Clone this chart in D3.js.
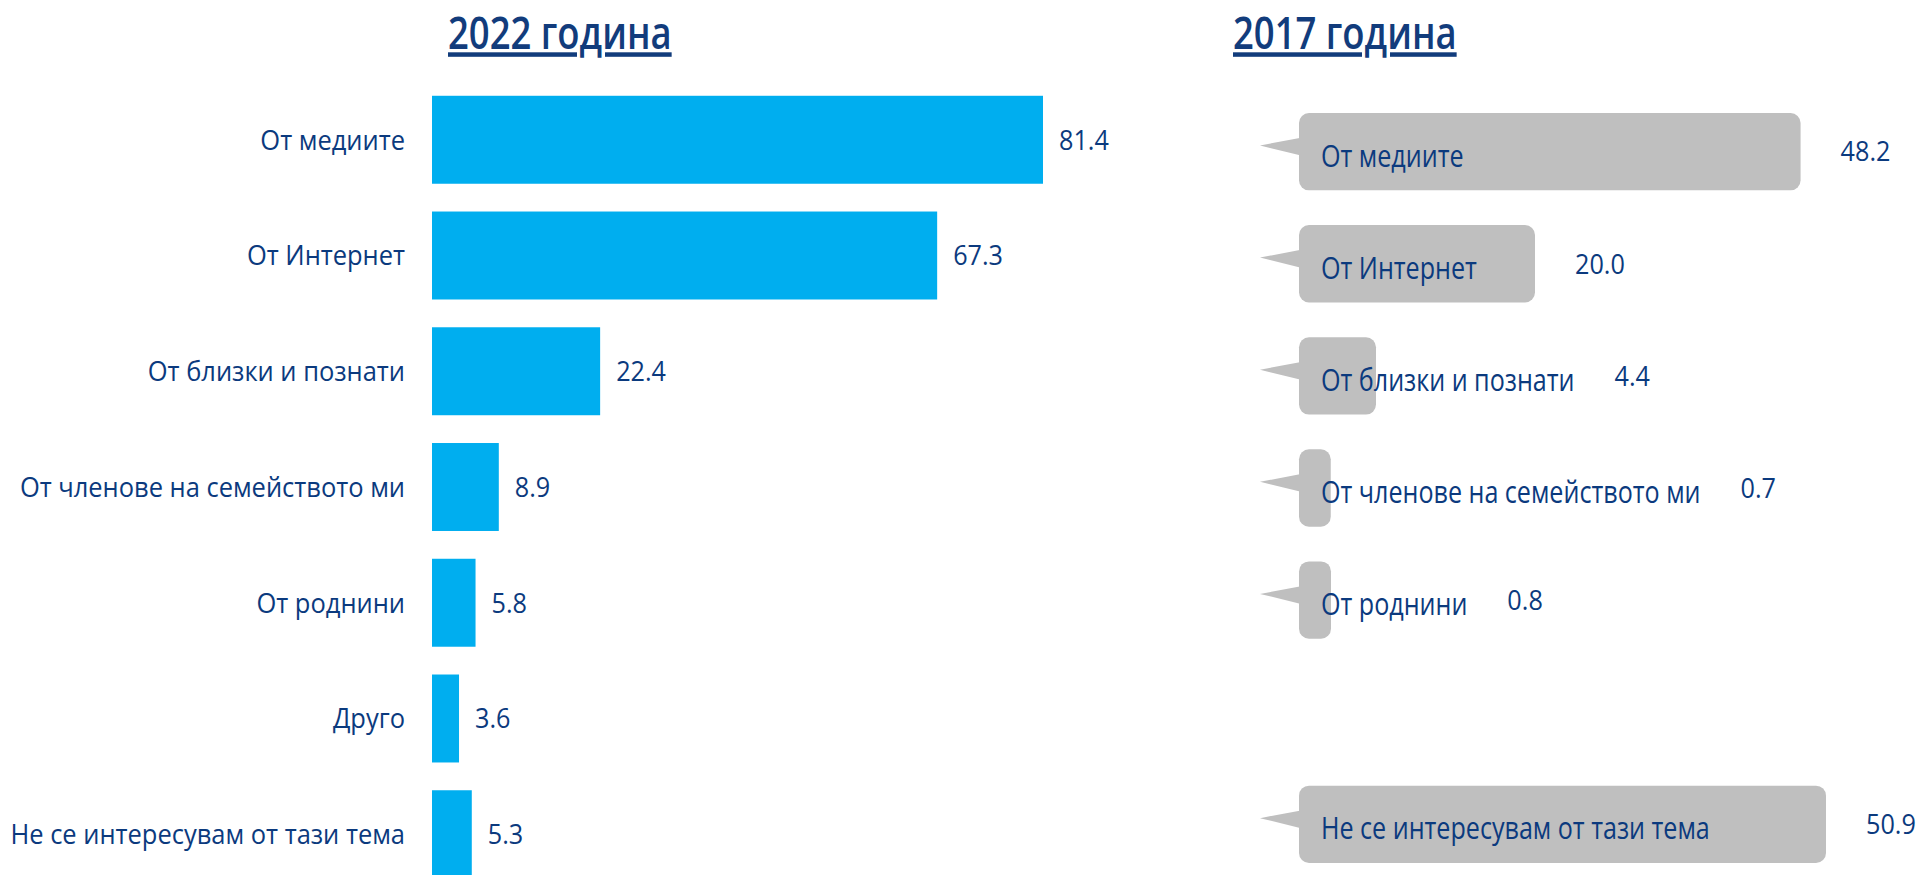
<!DOCTYPE html>
<html>
<head>
<meta charset="utf-8">
<script src="https://cdn.jsdelivr.net/npm/d3@7"></script>
<style>
  body { margin: 0; background: #fff; }
  text { font-family: "Open Sans", sans-serif; fill: #0b3a7e; }
</style>
</head>
<body>
<div id="chart"></div>
<script>
(function() {
	var width = 1924,
		height = 875;

	// categories (same order in both years)
	var categories = [
		"От медиите",
		"От Интернет",
		"От близки и познати",
		"От членове на семейството ми",
		"От роднини",
		"Друго",
		"Не се интересувам от тази тема"
	];
	var values2022 = [81.4, 67.3, 22.4, 8.9, 5.8, 3.6, 5.3];
	var values2017 = [48.2, 20.0, 4.4, 0.7, 0.8, null, 50.9];
	var titles = ["2022 година", "2017 година"];

	var svg = d3.select("#chart")
		.append("svg")
		.attr("width", width)
		.attr("height", height);

	// condensed text helper: draws text at x,y squeezed horizontally
	function squeezed(sel, sx) {
		return sel.attr("transform", function(d) {
			return "translate(" + d.x + "," + d.y + ") scale(" + sx + ",1)";
		});
	}

	// ---------- titles ----------
	svg.selectAll(".title")
		.data([{ t: titles[0], x: 448, y: 49 }, { t: titles[1], x: 1233, y: 49 }])
		.enter().append("text")
		.attr("class", "title")
		.call(squeezed, 0.81)
		.style("font-size", "45px")
		.style("font-weight", 600)
		.style("text-decoration", "underline")
		.style("fill", "#123c7c")
		.text(function(d) { return d.t; });

	// ---------- 2022 chart (bars) ----------
	var x = d3.scaleLinear().domain([0, 81.4]).range([432, 1043]);
	var y = d3.scaleBand().domain(categories).range([68, 906]).padding(0.24);

	var rows22 = categories.map(function(c, i) { return { cat: c, v: values2022[i] }; });

	svg.selectAll(".bar")
		.data(rows22)
		.enter().append("rect")
		.attr("class", "bar")
		.attr("x", x(0))
		.attr("y", function(d) { return y(d.cat); })
		.attr("width", function(d) { return x(d.v) - x(0); })
		.attr("height", y.bandwidth())
		.style("fill", "#00aeef");

	// category labels, right aligned
	svg.selectAll(".lab22")
		.data(rows22.map(function(d) { return { t: d.cat, x: 405, y: y(d.cat) + y.bandwidth() / 2 }; }))
		.enter().append("text")
		.attr("class", "lab22")
		.call(squeezed, 0.91)
		.attr("text-anchor", "end")
		.attr("dy", "0.35em")
		.style("font-size", "28px")
		.text(function(d) { return d.t; });

	// value labels
	svg.selectAll(".val22")
		.data(rows22.map(function(d) { return { t: d.v.toFixed(1), x: x(d.v) + 16, y: y(d.cat) + y.bandwidth() / 2 }; }))
		.enter().append("text")
		.attr("class", "val22")
		.call(squeezed, 0.9)
		.attr("dy", "0.35em")
		.style("font-size", "28px")
		.text(function(d) { return d.t; });

	// ---------- 2017 chart (speech bubbles) ----------
	// bubble widths in the original are not proportional; piecewise scale
	var w17 = d3.scaleLinear().domain([0, 0.8, 4.4, 20, 50.9]).range([30, 32, 77, 236, 527]);
	var y17 = d3.scaleBand().domain(categories).range([113, 863]).paddingInner(0.31);
	var bx = 1299;

	var rows17 = categories.map(function(c, i) { return { cat: c, v: values2017[i] }; })
		.filter(function(d) { return d.v != null; });

	var bubbles = svg.selectAll(".bubble")
		.data(rows17)
		.enter().append("g")
		.attr("class", "bubble");

	// tail
	bubbles.append("path")
		.attr("d", function(d) {
			var t = y17(d.cat), h = y17.bandwidth();
			return "M" + (bx + 2) + "," + (t + h * 0.32) +
				"L" + (bx - 39) + "," + (t + h * 0.42) +
				"L" + (bx + 2) + "," + (t + h * 0.55) + "Z";
		})
		.style("fill", "#bfbfbf");

	bubbles.append("rect")
		.attr("x", bx)
		.attr("y", function(d) { return y17(d.cat); })
		.attr("width", function(d) { return w17(d.v); })
		.attr("height", y17.bandwidth())
		.attr("rx", 10)
		.style("fill", "#bfbfbf");

	var labScale = 0.81;
	var labs17 = svg.selectAll(".lab17")
		.data(rows17.map(function(d) { return { t: d.cat, v: d.v, x: bx + 22, y: y17(d.cat) + y17.bandwidth() / 2 + 4 }; }))
		.enter().append("text")
		.attr("class", "lab17")
		.call(squeezed, labScale)
		.attr("dy", "0.35em")
		.style("font-size", "31px")
		.text(function(d) { return d.t; });

	// value sits after whichever is longer: bubble or its label
	var vals17 = [];
	labs17.each(function(d) {
		var lw = this.getComputedTextLength() * labScale;
		var right = Math.max(bx + w17(d.v), d.x + lw);
		vals17.push({ t: d.v.toFixed(1), x: right + 40, y: d.y - 4 });
	});

	svg.selectAll(".val17")
		.data(vals17)
		.enter().append("text")
		.attr("class", "val17")
		.call(squeezed, 0.9)
		.attr("dy", "0.35em")
		.style("font-size", "28px")
		.text(function(d) { return d.t; });

}) ();
</script>
</body>
</html>
